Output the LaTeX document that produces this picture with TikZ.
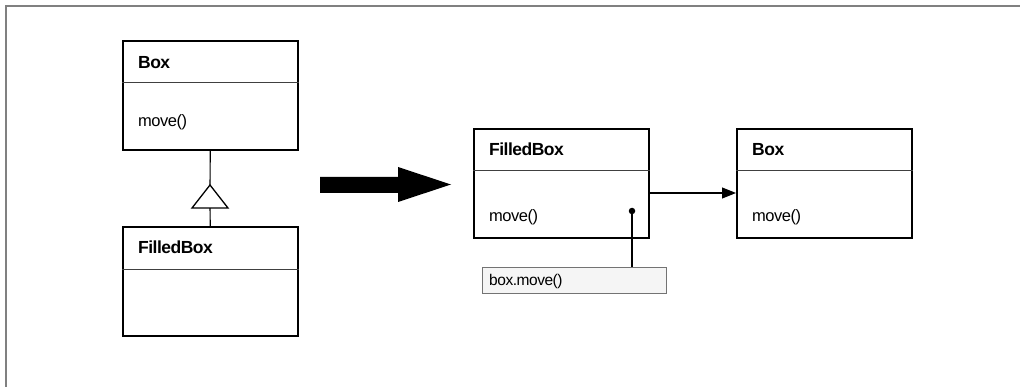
\documentclass[tikz,border=0pt]{standalone}
\usepackage{fontspec}
\setmainfont{Liberation Sans}
\newfontfamily\tightbold[LetterSpace=-3]{Liberation Sans}
\newfontfamily\tightreg[LetterSpace=-3]{Liberation Sans}
\usetikzlibrary{arrows.meta}
\begin{document}
\begin{tikzpicture}[x=1pt,y=-1pt,
  cls/.style={draw=black,line width=1.6pt,fill=white,minimum width=175pt,minimum height=109pt,inner sep=0pt,anchor=north west},
  divider/.style={draw=black!75,line width=1pt},
  title/.style={anchor=base west,inner sep=0pt,font=\tightbold\fontsize{17.5}{20}\selectfont\bfseries},
  op/.style={anchor=base west,inner sep=0pt,font=\tightreg\fontsize{16.5}{19}\selectfont},
  link/.style={draw=black,line width=1.1pt},
  notebox/.style={draw=black!55,line width=1.2pt,fill=black!4,minimum width=184pt,minimum height=26pt,inner sep=0pt,anchor=north west}
]
\useasboundingbox (0,0) rectangle (1020,387);
% frame
\draw[black!50,line width=2pt] (1020,6) -- (6,6) -- (6,387);

% left side
\node[cls] (lbox) at (122,40) {};
\draw[divider] (lbox.north west |- 0,83) -- (lbox.north east |- 0,83);
\node[title] (lboxt) at (138,69) {Box};
\node[op] (lboxm) at (138,127) {move()};

\node[cls] (lfb) at (122,226) {};
\draw[divider] (lfb.north west |- 0,270) -- (lfb.north east |- 0,270);
\node[title] (lfbt) at (138,254) {FilledBox};

% generalization
\coordinate (tapex) at (210,185);
\coordinate (tbase) at (210,208);
\draw[link] (lbox.south) -- (tapex);
\draw[link] (tbase) -- (lfb.north);
\draw[line width=1.3pt,fill=white,line join=miter] (tapex) -- (192,208) -- (228,208) -- cycle;

% big arrow
\fill[black] (320,177) -- (398,177) -- (398,167) -- (451,184.5) -- (398,202) -- (398,193) -- (320,193) -- cycle;

% right side
\node[cls] (rfb) at (473,128) {};
\draw[divider] (rfb.north west |- 0,171) -- (rfb.north east |- 0,171);
\node[title] (rfbt) at (489,156) {FilledBox};
\node[op] (rfbm) at (489,222) {move()};

\node[cls] (rbox) at (736,128) {};
\draw[divider] (rbox.north west |- 0,171) -- (rbox.north east |- 0,171);
\node[title] (rboxt) at (752,156) {Box};
\node[op] (rboxm) at (752,222) {move()};

\draw[link,-{Triangle[length=14pt,width=11pt]}] (rfb.east |- 0,193) -- (rbox.west |- 0,193);

% note
\node[notebox] (note) at (482,267) {};
\node[op,font=\tightreg\fontsize{15.5}{18}\selectfont] (notet) at (489,286) {box.move()};
\node[circle,fill=black,inner sep=0pt,minimum size=6.5pt] (dot) at (632,211) {};
\draw[link] (dot.center) -- (dot.center |- note.north);
\end{tikzpicture}
\end{document}
